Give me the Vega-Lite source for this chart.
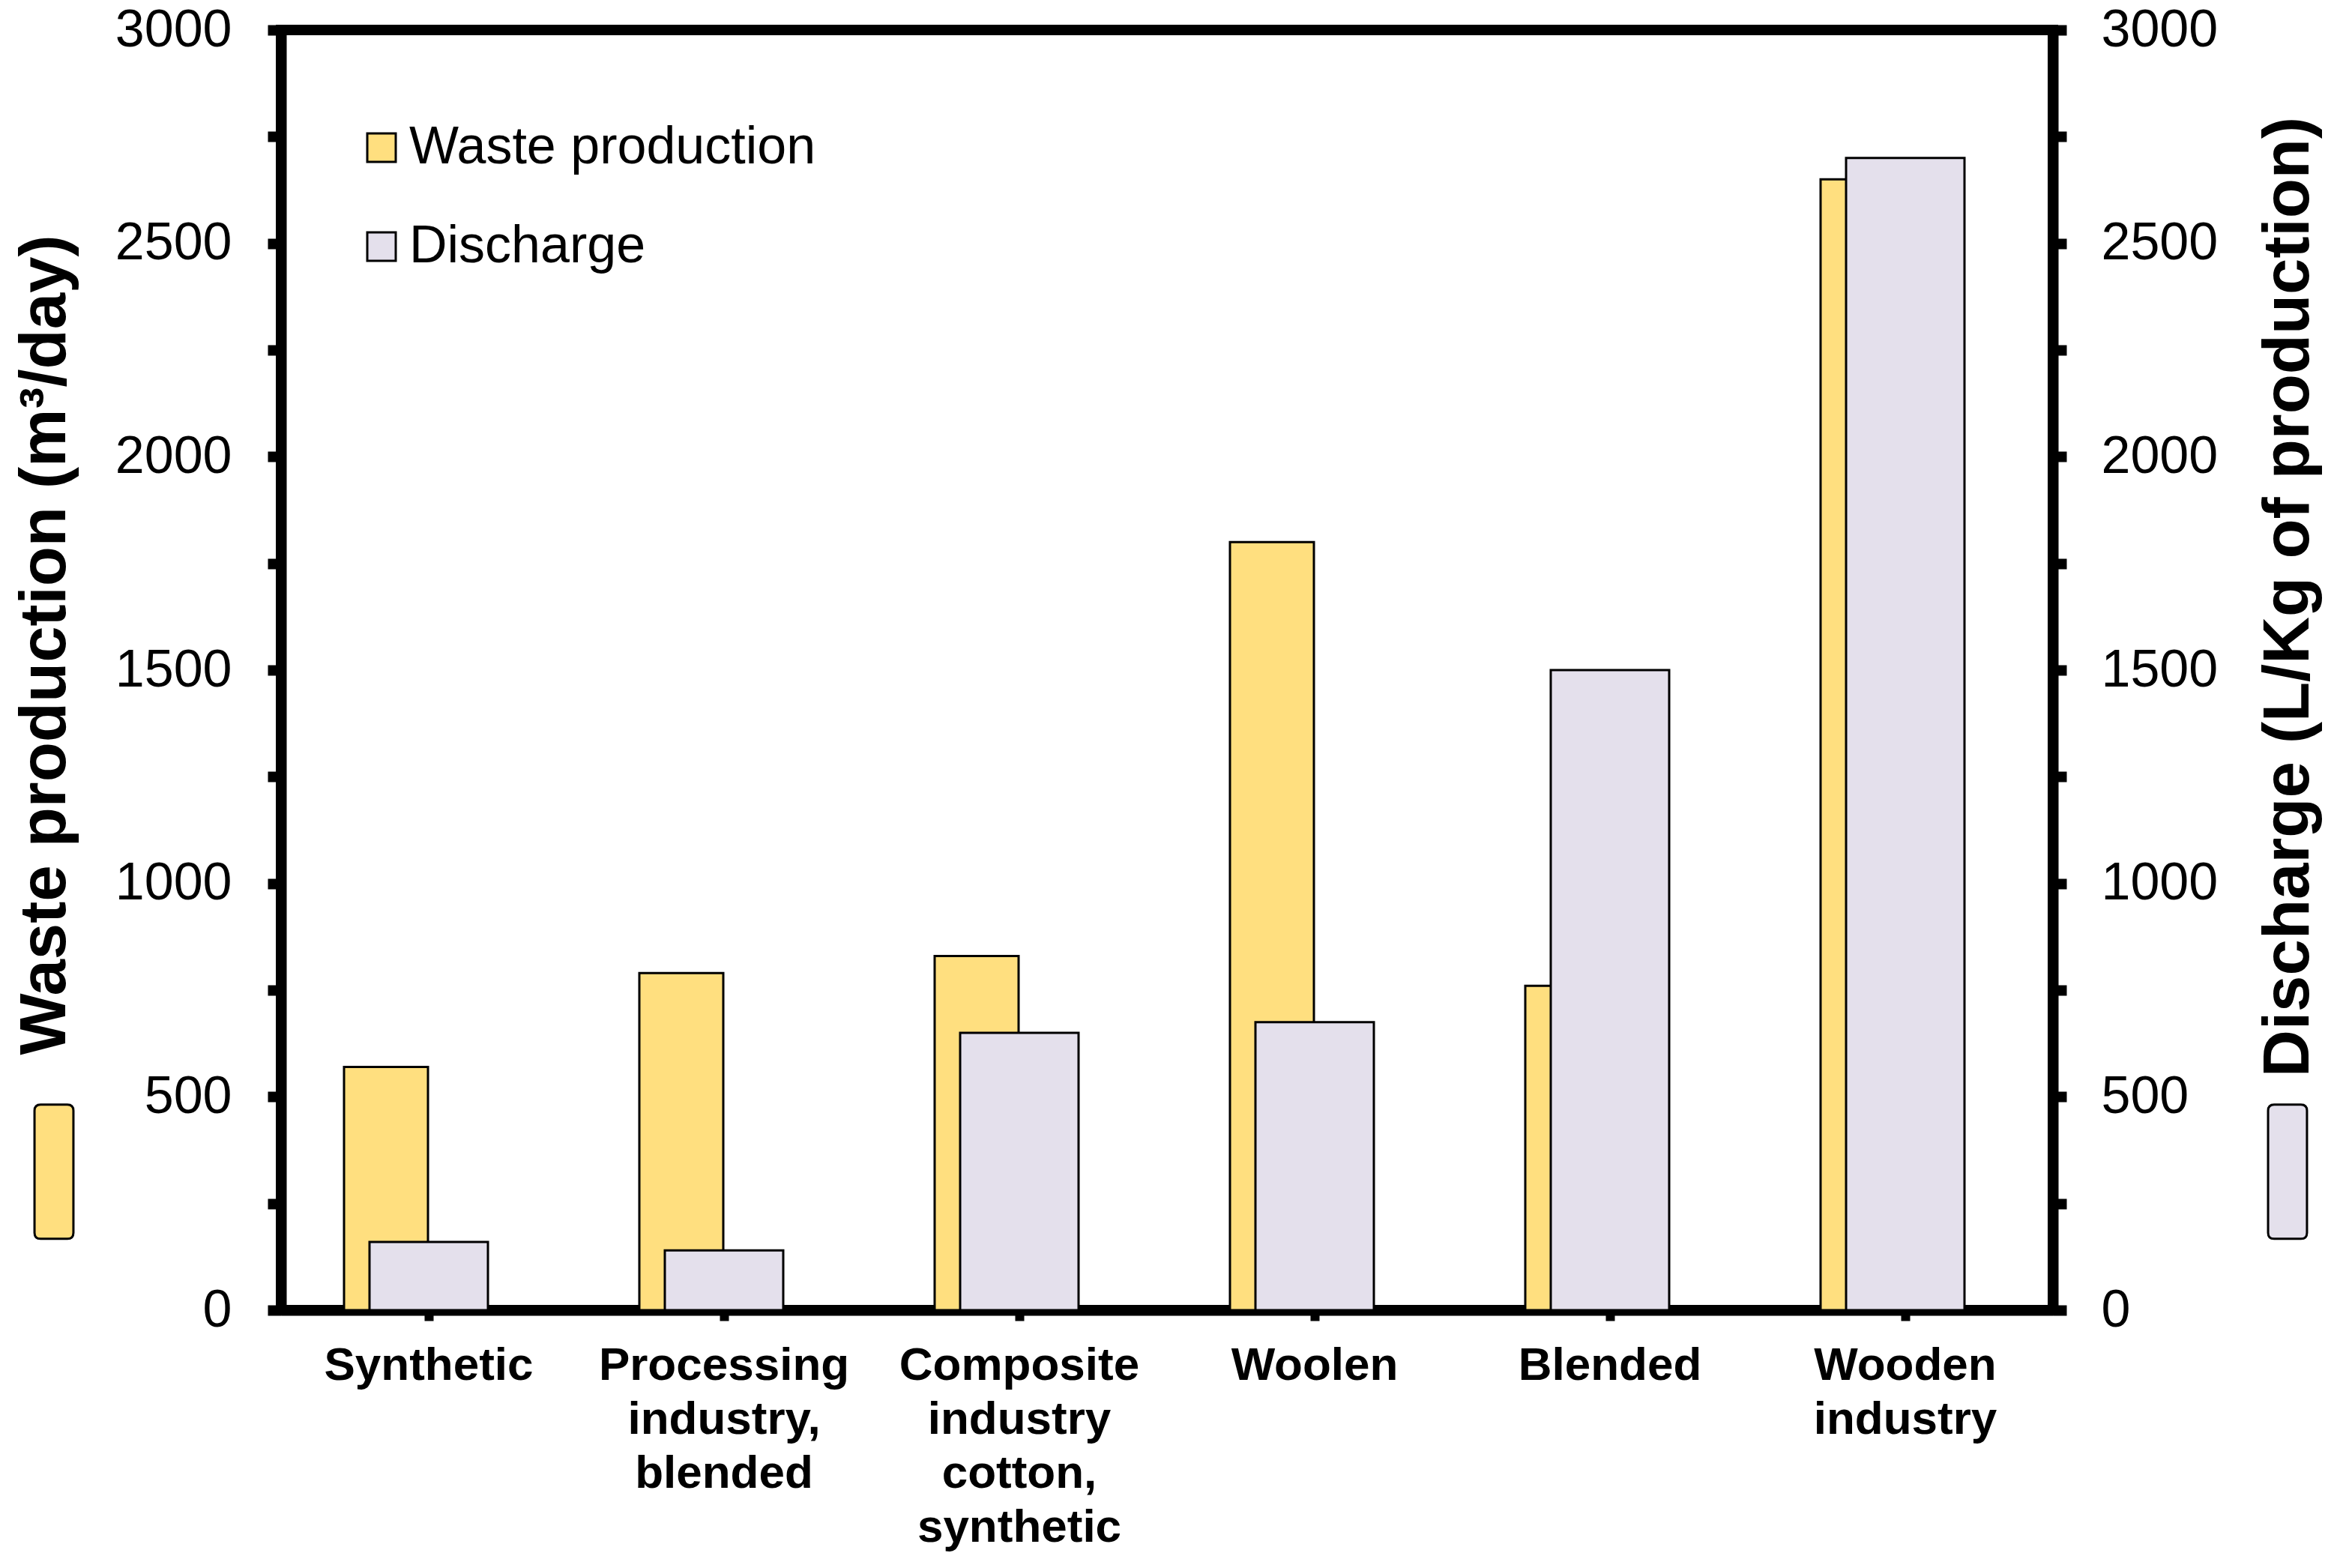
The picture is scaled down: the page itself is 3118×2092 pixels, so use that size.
{
  "$schema": "https://vega.github.io/schema/vega-lite/v6.json",
  "autosize": {"type": "none"},
  "padding": {"left": 375, "top": 40, "right": 379, "bottom": 344},
  "width": 2364,
  "height": 1708,
  "background": "white",
  "config": {
    "font": "Liberation Sans",
    "view": {"stroke": "black", "strokeWidth": 14},
    "axis": {
      "labelFont": "Liberation Sans",
      "labelColor": "black",
      "tickColor": "black",
      "domainColor": "black",
      "domainWidth": 14,
      "zindex": 1,
      "grid": false,
      "titleFont": "Liberation Sans",
      "titleColor": "black"
    },
    "legend": {"labelFont": "Liberation Sans", "labelColor": "black", "labelLimit": 0}
  },
  "data": {
    "values": [
      {"category": "Synthetic", "series": "Waste production", "value": 570},
      {"category": "Processing industry, blended", "series": "Waste production", "value": 790},
      {"category": "Composite industry cotton, synthetic", "series": "Waste production", "value": 830},
      {"category": "Woolen", "series": "Waste production", "value": 1800},
      {"category": "Blended", "series": "Waste production", "value": 760},
      {"category": "Wooden industry", "series": "Waste production", "value": 2650},
      {"category": "Synthetic", "series": "Discharge", "value": 160},
      {"category": "Processing industry, blended", "series": "Discharge", "value": 140},
      {"category": "Composite industry cotton, synthetic", "series": "Discharge", "value": 650},
      {"category": "Woolen", "series": "Discharge", "value": 675},
      {"category": "Blended", "series": "Discharge", "value": 1500},
      {"category": "Wooden industry", "series": "Discharge", "value": 2700}
    ]
  },
  "layer": [
    {
      "transform": [{"filter": "datum.series === 'Waste production'"}],
      "mark": {"type": "bar", "width": 112, "xOffset": -57, "stroke": "black", "strokeWidth": 3},
      "encoding": {
        "x": {
          "field": "category", "type": "nominal", "sort": null,
          "scale": {"paddingInner": 0, "paddingOuter": 0},
          "axis": {
            "title": null, "orient": "bottom", "labelAngle": 0, "labelAlign": "center", "labelBaseline": "top",
            "labelFontSize": 62, "labelFontWeight": "bold", "labelLineHeight": 72, "labelPadding": 29,
            "labelExpr": "split(datum.label, ' ')", "labelLimit": 0, "labelOverlap": false,
            "tickSize": 14, "tickWidth": 12, "bandPosition": 0.5, "domainWidth": 14
          }
        },
        "y": {
          "field": "value", "type": "quantitative",
          "scale": {"domain": [0, 3000], "nice": false, "zero": true},
          "axis": {
            "orient": "left",
            "values": [0, 250, 500, 750, 1000, 1250, 1500, 1750, 2000, 2250, 2500, 2750, 3000],
            "labelExpr": "datum.value % 500 === 0 ? datum.label : ''",
            "format": "d", "labelFontSize": 70, "labelPadding": 48, "labelOverlap": false,
            "tickSize": 18, "tickWidth": 14,
            "title": "Waste production (m³/day)", "titleFontSize": 87, "titleFontWeight": "bold",
            "titleAngle": 270, "titleX": -315, "titleY": 820, "titleAlign": "center", "titleBaseline": "middle"
          }
        },
        "fill": {
          "field": "series", "type": "nominal",
          "scale": {"domain": ["Waste production", "Discharge"], "range": ["#FFDF7F", "#E4E0EC"]},
          "legend": {
            "title": null, "orient": "none", "legendX": 99, "legendY": 122, "direction": "vertical",
            "symbolType": "square", "symbolSize": 1444, "symbolStrokeColor": "black", "symbolStrokeWidth": 3,
            "labelFontSize": 70, "labelOffset": 2, "rowPadding": 62, "padding": 0, "labelLimit": 0
          }
        }
      }
    },
    {
      "transform": [{"filter": "datum.series === 'Discharge'"}],
      "mark": {"type": "bar", "width": 158, "stroke": "black", "strokeWidth": 3},
      "encoding": {
        "x": {
          "field": "category", "type": "nominal", "sort": null,
          "scale": {"paddingInner": 0, "paddingOuter": 0},
          "axis": {
            "title": null, "orient": "bottom", "labelAngle": 0, "labelAlign": "center", "labelBaseline": "top",
            "labelFontSize": 62, "labelFontWeight": "bold", "labelLineHeight": 72, "labelPadding": 29,
            "labelExpr": "split(datum.label, ' ')", "labelLimit": 0, "labelOverlap": false,
            "tickSize": 14, "tickWidth": 12, "bandPosition": 0.5, "domainWidth": 14
          }
        },
        "y": {
          "field": "value", "type": "quantitative",
          "scale": {"domain": [0, 3000], "nice": false, "zero": true},
          "axis": {
            "orient": "right",
            "values": [0, 250, 500, 750, 1000, 1250, 1500, 1750, 2000, 2250, 2500, 2750, 3000],
            "labelExpr": "datum.value % 500 === 0 ? datum.label : ''",
            "format": "d", "labelFontSize": 70, "labelPadding": 46, "labelOverlap": false,
            "tickSize": 18, "tickWidth": 14,
            "title": "Discharge (L/Kg of production)", "titleFontSize": 87, "titleFontWeight": "bold",
            "titleAngle": 270, "titleX": 314, "titleY": 756, "titleAlign": "center", "titleBaseline": "middle"
          }
        },
        "fill": {
          "field": "series", "type": "nominal",
          "scale": {"domain": ["Discharge", "Waste production"], "range": ["#E4E0EC", "#FFDF7F"]},
          "legend": {
            "title": null, "orient": "none", "legendX": -394, "legendY": 1432, "direction": "horizontal",
            "values": ["Waste production", "Discharge"],
            "symbolType": "M-0.2,-1 L0.2,-1 Q0.29,-1 0.29,-0.91 L0.29,0.91 Q0.29,1 0.2,1 L-0.2,1 Q-0.29,1 -0.29,0.91 L-0.29,-0.91 Q-0.29,-1 -0.2,-1 Z",
            "symbolSize": 32041, "symbolStrokeColor": "black", "symbolStrokeWidth": 3,
            "labelExpr": "''", "labelOffset": 0, "columnPadding": 2798, "padding": 0
          }
        }
      }
    }
  ],
  "resolve": {"scale": {"y": "independent", "fill": "independent"}}
}
